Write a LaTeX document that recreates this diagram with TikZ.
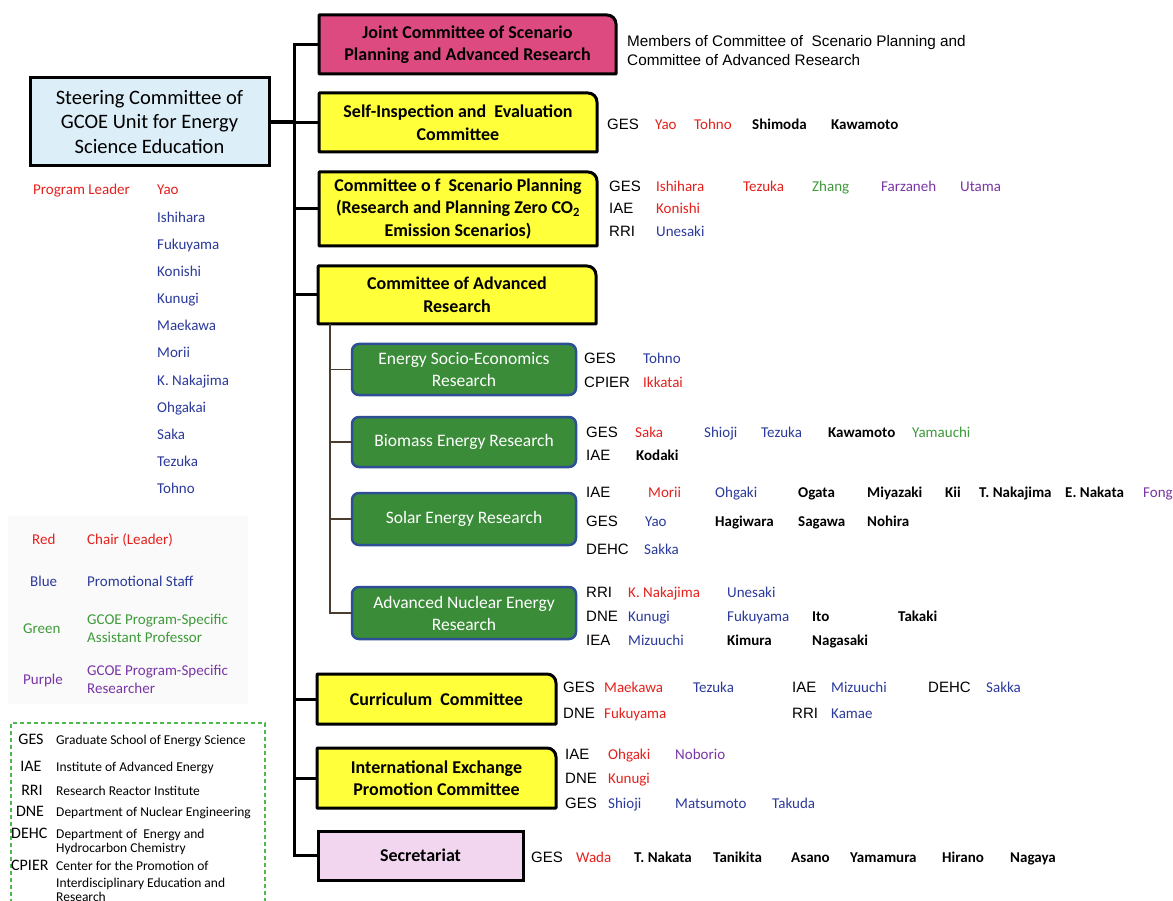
\documentclass[tikz,border=0pt]{standalone}
\usepackage{fontspec}
\setmainfont{Carlito}
\newfontfamily\arialfont{Liberation Sans}
\usetikzlibrary{backgrounds}

\definecolor{cr}{HTML}{E5211D}
\definecolor{cb}{HTML}{2B3A9B}
\definecolor{cg}{HTML}{3E9A3A}
\definecolor{cp}{HTML}{7A35A6}
\definecolor{steerfill}{HTML}{DCEEF8}
\definecolor{jointfill}{HTML}{DD4A80}
\definecolor{yfill}{HTML}{FFFF3A}
\definecolor{gfill}{HTML}{3B8C39}
\definecolor{gedge}{HTML}{2E4F96}
\definecolor{secfill}{HTML}{F2D6EF}
\definecolor{legline}{HTML}{4FB84A}
\definecolor{subline}{HTML}{4A3C2E}
\definecolor{legshade}{HTML}{FAFAFA}

\tikzset{
  boxtext/.style={inner sep=0pt, outer sep=0pt, align=center,
    font=\bfseries\fontsize{18}{22.5}\selectfont},
  steerbox/.style={draw, line width=3pt, fill=steerfill, inner sep=0pt, outer sep=0pt,
    align=center, font=\fontsize{20.5}{24.5}\selectfont},
  greenbox/.style={draw=gedge, line width=2.5pt, fill=gfill, rounded corners=7pt,
    inner sep=0pt, outer sep=0pt, align=center, text=white,
    minimum width=224pt, font=\fontsize{17.5}{22}\selectfont},
  secbox/.style={draw, line width=3pt, fill=secfill, inner sep=0pt, outer sep=0pt,
    font=\bfseries\fontsize{18}{22}\selectfont},
  tabshape/.style={draw, line width=3pt, line join=round},
  trunk/.style={line width=3pt, line join=miter},
  subtrunk/.style={draw=subline, line width=1.5pt},
  abbr/.style={anchor=base west, inner sep=0pt, font=\arialfont\fontsize{15}{18}\selectfont},
  nm/.style={anchor=base west, inner sep=0pt, font=\fontsize{15}{18}\selectfont},
  nmk/.style={nm, font=\bfseries\fontsize{15}{18}\selectfont},
  memtext/.style={anchor=base west, inner sep=0pt, font=\arialfont\fontsize{15.3}{18}\selectfont},
  legabbr/.style={anchor=base, inner sep=0pt, font=\fontsize{16}{18}\selectfont},
  legdesc/.style={anchor=base west, inner sep=0pt, font=\fontsize{13.5}{16}\selectfont},
  legframe/.style={draw=legline, line width=1.2pt, dash pattern=on 4pt off 3pt},
}

% one row of members: id, baseline y, x of the unit abbreviation, abbreviation,
% list x/style/colour/name (style nm = regular, nmk = bold)
\newcommand\mrow[5]{%
  \node[abbr] (#1) at (#3,#2) {#4};%
  \foreach \rx/\rs/\rc/\rt [count=\ri] in {#5} {\node[\rs,text=\rc] (#1-\ri) at (\rx,#2) {\rt};}%
}
% box with a rounded upper right corner
\newcommand\tabbox[2]{%
  \draw[tabshape, fill=#2] (#1.south west) -- (#1.north west) -- ([xshift=-9pt]#1.north east)
    arc[start angle=90, end angle=0, radius=9pt] -- (#1.south east) -- cycle;}

\begin{document}
\begin{tikzpicture}[x=1pt, y=-1pt]
\useasboundingbox (0,0) rectangle (1173,901);

% ---------- committee boxes ----------
\node[steerbox, minimum width=239pt, minimum height=88pt] (steer) at (149.5,122)
  {Steering Committee of\\GCOE Unit for Energy\\Science Education};

\node[boxtext, minimum width=297pt, minimum height=59pt] (joint) at (467.5,44.5)
  {Joint Committee of Scenario\\Planning and Advanced Research};
\node[boxtext, minimum width=278pt, minimum height=59pt] (self) at (458,122.5)
  {Self-Inspection and\ \ Evaluation\\Committee};
\node[boxtext, minimum width=278pt, minimum height=74pt] (scen) at (458,209)
  {Committee o f\ \ Scenario Planning\\(Research and Planning Zero CO\textsubscript{2}\\Emission Scenarios)};
\node[boxtext, minimum width=278pt, minimum height=58pt] (adv) at (457,295)
  {Committee of Advanced\\Research};
\node[boxtext, minimum width=239pt, minimum height=50pt] (curr) at (436.5,699)
  {Curriculum\ \ Committee};
\node[boxtext, minimum width=239pt, minimum height=60pt] (intl) at (436.5,778)
  {International Exchange\\Promotion Committee};
\node[secbox, minimum width=205pt, minimum height=49pt] (secr) at (420.5,855.5)
  {Secretariat};

\node[greenbox, minimum height=51pt] (socio) at (464,369.5) {Energy Socio-Economics\\Research};
\node[greenbox, minimum height=50pt] (bio) at (464,442) {Biomass Energy Research};
\node[greenbox, minimum height=52pt] (solar) at (464,519) {Solar Energy Research};
\node[greenbox, minimum height=52pt] (nuc) at (464,613) {Advanced Nuclear Energy\\Research};

\begin{scope}[on background layer]
  \fill[white] (0,0) rectangle (1173,901);
  \fill[legshade] (8,516) rectangle (248,704);
  \tabbox{joint}{jointfill}
  \tabbox{self}{yfill}
  \tabbox{scen}{yfill}
  \tabbox{adv}{yfill}
  \tabbox{curr}{yfill}
  \tabbox{intl}{yfill}
\end{scope}

% ---------- connectors ----------
\coordinate (tx) at (294,0);
\coordinate (sx) at (330,0);
\draw[trunk] (joint.west) -- (tx |- joint.west) -- (tx |- secr.west) -- (secr.west);
\foreach \b in {self,scen,adv,curr,intl}
  \draw[trunk] (tx |- \b.west) -- (\b.west);
\draw[line width=4.5pt] (steer.east) -- (tx |- steer.east);
\draw[subtrunk] (sx |- adv.south) -- (sx |- nuc.west) -- (nuc.west);
\foreach \b in {socio,bio,solar}
  \draw[subtrunk] (sx |- \b.west) -- (\b.west);

% ---------- members ----------
\node[memtext] (memA) at (627,47) {Members of Committee of\ \ Scenario Planning and};
\node[memtext] (memB) at (627,66) {Committee of Advanced Research};

\mrow{selfG}{130}{607}{GES}{655/nm/cr/Yao, 694/nm/cr/Tohno, 752/nmk/black/Shimoda, 831/nmk/black/Kawamoto}

\mrow{scenG}{192}{609}{GES}{656/nm/cr/Ishihara, 743/nm/cr/Tezuka, 812/nm/cg/Zhang, 881/nm/cp/Farzaneh, 960/nm/cp/Utama}
\mrow{scenI}{214}{609}{IAE}{656/nm/cr/Konishi}
\mrow{scenR}{237}{609}{RRI}{656/nm/cb/Unesaki}

\mrow{socG}{363}{584}{GES}{643/nm/cb/Tohno}
\mrow{socC}{387}{584}{CPIER}{643/nm/cr/Ikkatai}

\mrow{bioG}{437}{586}{GES}{635/nm/cr/Saka, 704/nm/cb/Shioji, 761/nm/cb/Tezuka, 828/nmk/black/Kawamoto, 912/nm/cg/Yamauchi}
\mrow{bioI}{460}{586}{IAE}{636/nmk/black/Kodaki}

\mrow{solI}{497}{586}{IAE}{648/nm/cr/Morii, 715/nm/cb/Ohgaki, 798/nmk/black/Ogata, 867/nmk/black/Miyazaki, 945/nmk/black/Kii, 979/nmk/black/T. Nakajima, 1065/nmk/black/E. Nakata, 1143/nm/cp/Fong}
\mrow{solG}{526}{586}{GES}{645/nm/cb/Yao, 715/nmk/black/Hagiwara, 798/nmk/black/Sagawa, 867/nmk/black/Nohira}
\mrow{solD}{554}{586}{DEHC}{644/nm/cb/Sakka}

\mrow{nucR}{597}{586}{RRI}{628/nm/cr/K. Nakajima, 727/nm/cb/Unesaki}
\mrow{nucD}{621}{586}{DNE}{628/nm/cb/Kunugi, 727/nm/cb/Fukuyama, 812/nmk/black/Ito, 898/nmk/black/Takaki}
\mrow{nucI}{645}{586}{IEA}{628/nm/cb/Mizuuchi, 727/nmk/black/Kimura, 812/nmk/black/Nagasaki}

\mrow{curG}{692}{563}{GES}{604/nm/cr/Maekawa, 693/nm/cb/Tezuka}
\mrow{curI}{692}{792}{IAE}{831/nm/cb/Mizuuchi}
\mrow{curH}{692}{928}{DEHC}{986/nm/cb/Sakka}
\mrow{curD}{718}{563}{DNE}{604/nm/cr/Fukuyama}
\mrow{curR}{718}{792}{RRI}{831/nm/cb/Kamae}

\mrow{intI}{759}{565}{IAE}{608/nm/cr/Ohgaki, 675/nm/cp/Noborio}
\mrow{intD}{783}{565}{DNE}{608/nm/cr/Kunugi}
\mrow{intG}{808}{565}{GES}{608/nm/cb/Shioji, 675/nm/cb/Matsumoto, 772/nm/cb/Takuda}

\mrow{secG}{862}{531}{GES}{576/nm/cr/Wada, 634/nmk/black/T. Nakata, 713/nmk/black/Tanikita, 791/nmk/black/Asano, 850/nmk/black/Yamamura, 942/nmk/black/Hirano, 1010/nmk/black/Nagaya}

% ---------- steering committee members ----------
\node[nm, text=cr] (plead) at (33,195) {Program Leader};
\node[nm, text=cr] (plead-0) at (157,195) {Yao};
\foreach \t/\y [count=\i] in {Ishihara/218, Fukuyama/245, Konishi/272, Kunugi/299,
    Maekawa/326, Morii/352, K. Nakajima/380, Ohgakai/407, Saka/434, Tezuka/461, Tohno/488}
  \node[nm, text=cb] (plead-\i) at (157,\y+5) {\t};

% ---------- colour key ----------
\node[nm, text=cr] (kRed) at (32,544) {Red};
\node[nm, text=cr] (kRedT) at (87,544) {Chair (Leader)};
\node[nm, text=cb] (kBlue) at (30,586) {Blue};
\node[nm, text=cb] (kBlueT) at (87,586) {Promotional Staff};
\node[nm, text=cg] (kGreen) at (23,633) {Green};
\node[nm, text=cg] (kGreenT) at (87,624) {GCOE Program-Specific};
\node[nm, text=cg] (kGreenU) at (87,642) {Assistant Professor};
\node[nm, text=cp] (kPurple) at (23,684) {Purple};
\node[nm, text=cp] (kPurpleT) at (87,675) {GCOE Program-Specific};
\node[nm, text=cp] (kPurpleU) at (87,693) {Researcher};

% ---------- abbreviation key ----------
\draw[legframe] (11,910) -- (11,723) -- (265,723) -- (265,910);
\node[legabbr] (aGES) at (31,744) {GES};
\node[legdesc] (dGES) at (56,744) {Graduate School of Energy Science};
\node[legabbr] (aIAE) at (31,771) {IAE};
\node[legdesc] (dIAE) at (56,771) {Institute of Advanced Energy};
\node[legabbr] (aRRI) at (32,795) {RRI};
\node[legdesc] (dRRI) at (56,795) {Research Reactor Institute};
\node[legabbr] (aDNE) at (30,816) {DNE};
\node[legdesc] (dDNE) at (56,816) {Department of Nuclear Engineering};
\node[legabbr, anchor=base west] (aDEHC) at (11,838) {DEHC};
\node[legdesc] (dDEHC) at (56,838) {Department of\ \ Energy and};
\node[legdesc] (dDEHCb) at (56,852) {Hydrocarbon Chemistry};
\node[legabbr, anchor=base west] (aCPIER) at (11,870) {CPIER};
\node[legdesc] (dCPIER) at (56,870) {Center for the Promotion of};
\node[legdesc] (dCPIERb) at (56,887) {Interdisciplinary Education and};
\node[legdesc] (dCPIERc) at (56,901) {Research};
\end{tikzpicture}
\end{document}
